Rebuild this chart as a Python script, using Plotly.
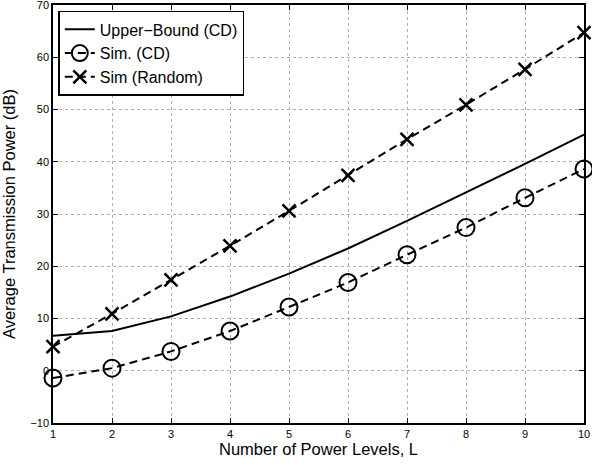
import plotly.graph_objects as go

L = [1, 2, 3, 4, 5, 6, 7, 8, 9, 10]
upper_cd = [6.7, 7.6, 10.4, 14.2, 18.6, 23.4, 28.7, 34.1, 39.6, 45.2]
sim_cd = [-1.4, 0.5, 3.7, 7.6, 12.2, 16.9, 22.2, 27.4, 33.1, 38.6]
sim_random = [4.6, 10.9, 17.4, 23.9, 30.6, 37.4, 44.3, 50.9, 57.7, 64.7]

font_family = "Liberation Sans, Arial, Helvetica, sans-serif"

fig = go.Figure()
fig.add_trace(go.Scatter(
    x=L, y=upper_cd, mode="lines", name="Upper\u2212Bound (CD)",
    line=dict(color="black", width=2, dash="solid"), cliponaxis=False,
))
fig.add_trace(go.Scatter(
    x=L, y=sim_cd, mode="lines+markers", name="Sim. (CD)",
    line=dict(color="black", width=2, dash="8px,5px"), cliponaxis=False,
    marker=dict(symbol="circle-open", size=17, color="black", line=dict(width=2, color="black")),
))
fig.add_trace(go.Scatter(
    x=L, y=sim_random, mode="lines+markers", name="Sim (Random)",
    line=dict(color="black", width=2, dash="8px,5px"), cliponaxis=False,
    marker=dict(symbol="x-thin-open", size=13, color="black", line=dict(width=2.5, color="black")),
))

axis_common = dict(
    showline=True, linecolor="black", linewidth=1.5, mirror="ticks",
    ticks="inside", ticklen=5, tickcolor="black", tickwidth=1,
    showgrid=True, gridcolor="#b0b0b0", griddash="dot", gridwidth=1,
    zeroline=False, ticklabeloverflow="allow", automargin=False,
    tickfont=dict(family=font_family, size=11, color="black"),
)

fig.update_xaxes(
    range=[1, 10], tickmode="array", tickvals=L,
    title=dict(text="Number of Power Levels, L", font=dict(family=font_family, size=16.5, color="black"), standoff=2),
    **axis_common,
)
fig.update_yaxes(
    range=[-10, 70], tickmode="array", tickvals=[-10, 0, 10, 20, 30, 40, 50, 60, 70],
    title=dict(text="Average Transmission Power (dB)", font=dict(family=font_family, size=16.5, color="black"), standoff=14),
    **axis_common,
)

fig.update_layout(
    width=592, height=465,
    margin=dict(l=53, r=8, t=5, b=42),
    plot_bgcolor="white", paper_bgcolor="white",
    font=dict(family=font_family, color="black"),
    legend=dict(
        x=0.01, y=0.986, xanchor="left", yanchor="top",
        bordercolor="black", borderwidth=1.5, bgcolor="white",
        font=dict(family=font_family, size=16, color="black"),
        tracegroupgap=0, itemwidth=30,
    ),
    showlegend=True,
)

fig.write_html(
    "out.html",
    config={"displayModeBar": False},
    post_script="document.body.style.margin='0';document.body.style.overflow='hidden';",
)
